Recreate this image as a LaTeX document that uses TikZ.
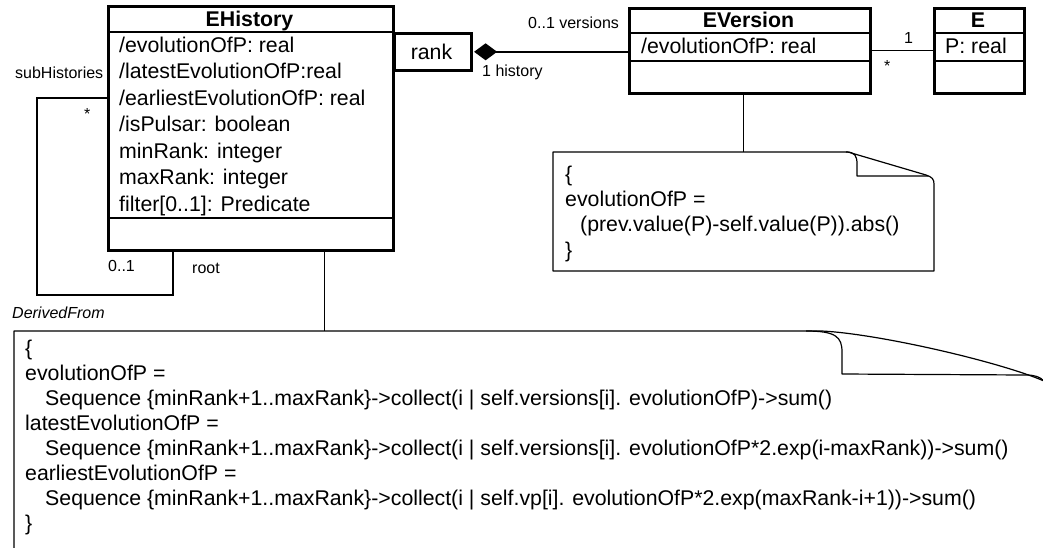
\documentclass[tikz,border=0pt]{standalone}
\usepackage{fontspec}
\setmainfont{Liberation Sans}
\usetikzlibrary{arrows.meta}
\begin{document}
\begin{tikzpicture}[x=1pt,y=-1pt,
  box/.style={draw, line width=2.6pt, anchor=north west, inner sep=0pt},
  sep/.style={line width=2.6pt},
  thinline/.style={line width=1pt},
  assoc/.style={line width=2.6pt, line join=miter},
  notebd/.style={line width=1.2pt, line join=round},
  txt/.style={font=\fontsize{21.3}{25}\selectfont, inner sep=0pt, anchor=base west},
  title/.style={font=\fontsize{21.3}{25}\selectfont\bfseries, inner sep=0pt, anchor=base},
  lab/.style={font=\fontsize{16}{19}\selectfont, inner sep=0pt, anchor=base west},
]
\useasboundingbox (0,0) rectangle (1043,547);

% ---------- EHistory ----------
\node[box, minimum width=285pt, minimum height=244pt] (eh) at (107,5) {};
\draw[sep] (107,32) -- (392,32);
\draw[sep] (107,218) -- (392,218);
\node[title] (ehT) at (249.5,26) {EHistory};
\node[txt] (eh1) at (119,52) {/evolutionOfP: real};
\node[txt] (eh2) at (119,78.5) {/latestEvolutionOfP:real};
\node[txt] (eh3) at (119,105) {/earliestEvolutionOfP: real};
\node[txt] (eh4) at (119,131.5) {/isPulsar: boolean};
\node[txt] (eh5) at (119,158) {minRank: integer};
\node[txt] (eh6) at (119,184.5) {maxRank: integer};
\node[txt] (eh7) at (119,211) {filter[0..1]: Predicate};

% ---------- rank qualifier ----------
\node[box, minimum width=77pt, minimum height=37pt] (rk) at (393,32) {};
\node[txt, anchor=base] (rkT) at (431.5,59) {rank};

% ---------- EVersion ----------
\node[box, minimum width=241pt, minimum height=85pt] (ev) at (628,7) {};
\draw[sep] (628,33) -- (869,33);
\draw[sep] (628,61) -- (869,61);
\node[title] (evT) at (748.5,27) {EVersion};
\node[txt] (ev1) at (641,53) {/evolutionOfP: real};

% ---------- E ----------
\node[box, minimum width=90pt, minimum height=85pt] (e) at (933,7) {};
\draw[sep] (933,33) -- (1023,33);
\draw[sep] (933,61) -- (1023,61);
\node[title] (eT) at (978,27) {E};
\node[txt] (e1) at (945,53) {P: real};

% ---------- composition ----------
\draw[line width=2.6pt, -{Diamond[length=23pt,width=17pt]}, shorten >=1.5pt]
  (rk.east -| ev.west) -- (rk.east);
\node[lab] (l1) at (528,28) {0..1 versions};
\node[lab] (l2) at (482,76) {1 history};

% ---------- EVersion -- E ----------
\draw[thinline] (ev.east) -- (ev.east -| e.west);
\node[lab] (l3) at (904,43) {1};
\node[lab] (l4) at (884,71) {*};

% ---------- self association ----------
\coordinate (s1) at (37,98);
\coordinate (s2) at (37,295);
\coordinate (s3) at (173,295);
\draw[assoc] (eh.west |- s1) -- (s1) -- (s2) -- (s3) -- (s3 |- eh.south);
\node[lab] (l5) at (15,78) {subHistories};
\node[lab] (l6) at (84,119) {*};
\node[lab] (l7) at (108,271) {0..1};
\node[lab] (l8) at (192,273) {root};
\node[lab, font=\fontsize{16}{19}\selectfont\itshape] (l9) at (12,318) {DerivedFrom};

% ---------- note 1 ----------
\coordinate (n1top) at (743,152);
\draw[thinline] (ev.south -| n1top) -- (n1top);
\draw[notebd] (553,152) -- (848,152) -- (926,175)
  .. controls (932,177) and (934,179) .. (934,184) -- (934,271) -- (553,271) -- cycle;
\draw[notebd] (846,152) .. controls (855,152) and (857,156) .. (857,164) -- (857,176) -- (928,176);
\node[txt] (n1a) at (565,181) {\{};
\node[txt] (n1b) at (565,206) {evolutionOfP =};
\node[txt] (n1c) at (580,231) {(prev.value(P)-self.value(P)).abs()};
\node[txt] (n1d) at (565,257) {\}};

% ---------- note 2 ----------
\coordinate (n2top) at (324,331);
\draw[thinline] (eh.south -| n2top) -- (n2top);
\draw[notebd] (14,560) -- (14,331) -- (822,331)
  .. controls (880,334) and (1000,362) .. (1044,381);
\draw[notebd] (806,331) .. controls (836,331) and (842,337) .. (842,352) -- (842,374)
  -- (1026,375) .. controls (1035,375) and (1040,377) .. (1044,381);
\node[txt] (n2a) at (25,355) {\{};
\node[txt] (n2b) at (25,380) {evolutionOfP =};
\node[txt] (n2c) at (45,405) {Sequence \{minRank+1..maxRank\}->collect(i | self.versions[i]. evolutionOfP)->sum()};
\node[txt] (n2d) at (25,430) {latestEvolutionOfP =};
\node[txt] (n2e) at (45,455) {Sequence \{minRank+1..maxRank\}->collect(i | self.versions[i]. evolutionOfP*2.exp(i-maxRank))->sum()};
\node[txt] (n2f) at (25,480) {earliestEvolutionOfP =};
\node[txt] (n2g) at (45,505) {Sequence \{minRank+1..maxRank\}->collect(i | self.vp[i]. evolutionOfP*2.exp(maxRank-i+1))->sum()};
\node[txt] (n2h) at (25,530) {\}};
\end{tikzpicture}
\end{document}
